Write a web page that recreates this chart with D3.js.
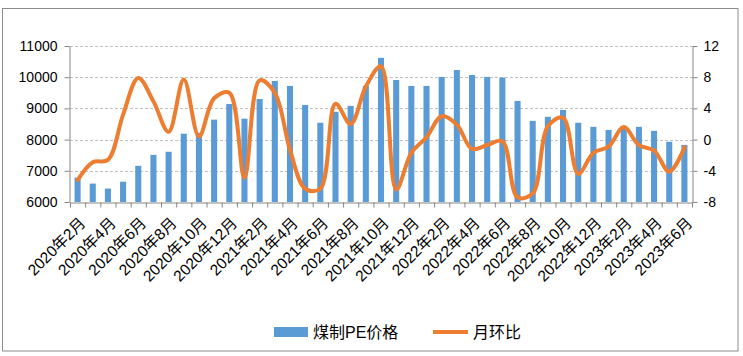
<!DOCTYPE html>
<html><head><meta charset="utf-8">
<script src="https://cdn.jsdelivr.net/npm/d3@7"></script>
<style>
body{margin:0;background:#fff;}
svg{display:block;}
text{font-family:"Liberation Sans","Noto Sans CJK SC",sans-serif;fill:#000;}
</style></head>
<body>
<svg id="c" width="743" height="356"></svg>
<script>
const categories = ["2020年2月","2020年3月","2020年4月","2020年5月","2020年6月","2020年7月","2020年8月","2020年9月","2020年10月","2020年11月","2020年12月",
"2021年1月","2021年2月","2021年3月","2021年4月","2021年5月","2021年6月","2021年7月","2021年8月","2021年9月","2021年10月","2021年11月","2021年12月",
"2022年1月","2022年2月","2022年3月","2022年4月","2022年5月","2022年6月","2022年7月","2022年8月","2022年9月","2022年10月","2022年11月","2022年12月",
"2023年1月","2023年2月","2023年3月","2023年4月","2023年5月","2023年6月"];
const price = [6780,6590,6430,6650,7160,7510,7610,8190,8220,8640,9140,8670,9300,9880,9720,9110,8540,8890,9080,9720,10620,9910,9720,9720,10010,10230,10070,10010,9990,9240,8600,8730,8950,8540,8410,8310,8440,8410,8280,7930,7830];
const mom = [-5.2,-2.9,-2.6,3.2,7.9,4.9,1.0,7.7,0.4,5.3,6.0,-4.9,7.6,6.0,-1.3,-6.3,-6.3,4.6,2.0,6.8,9.4,-6.4,-1.7,0.3,3.0,1.9,-1.2,-0.7,-0.2,-7.4,-6.9,1.7,2.8,-4.4,-1.7,-0.9,1.6,-0.7,-1.4,-4.1,-1.0];
const leftTicks = [6000,7000,8000,9000,10000,11000];
const rightTicks = [-8,-4,0,4,8,12];
const seriesNames = ["煤制PE价格","月环比"];

const svg = d3.select("#c");
const L = 70, R = 692, T = 46, B = 202;
const barColor = "#5B9BD5", lineColor = "#ED7D31", axisColor = "#868686";

svg.append("rect").attr("x",2.5).attr("y",8.5).attr("width",735.5).attr("height",342.5)
  .attr("fill","#fff").attr("stroke","#8c8c8c").attr("stroke-width",1);

const x = d3.scaleBand().domain(categories).range([L,R]).paddingInner(0.6).paddingOuter(0.3);
const xi = d3.scaleLinear().domain([0,categories.length]).range([L,R]);
const yL = d3.scaleLinear().domain([6000,11000]).range([B,T]);
const yR = d3.scaleLinear().domain([-8,12]).range([B,T]);

// grid
svg.append("g").selectAll("line").data(leftTicks.slice(1)).join("line")
  .attr("x1",L).attr("x2",R).attr("y1",d=>Math.round(yL(d))+0.5).attr("y2",d=>Math.round(yL(d))+0.5)
  .attr("stroke","#c0c0c0").attr("stroke-dasharray","3,2").attr("stroke-width",1);

// bars
svg.append("g").selectAll("rect").data(price).join("rect")
  .attr("x",(d,i)=>x(categories[i])).attr("width",x.bandwidth())
  .attr("y",d=>yL(d)).attr("height",d=>B-yL(d)).attr("fill",barColor);

// line
const line = d3.line().x((d,i)=>x(categories[i])+x.bandwidth()/2).y(d=>yR(d)).curve(d3.curveCatmullRom.alpha(0.5));
svg.append("path").datum(mom).attr("d",line).attr("fill","none").attr("stroke",lineColor)
  .attr("stroke-width",4).attr("stroke-linejoin","round").attr("stroke-linecap","round");

// axes
function styleAxis(g){ g.selectAll("path,line").attr("stroke",axisColor); g.selectAll("text").attr("font-size",14).attr("fill","#000"); }
svg.append("g").attr("transform",`translate(${L-0.5},0)`)
  .call(d3.axisLeft(yL).tickValues(leftTicks).tickSize(5).tickSizeOuter(0).tickPadding(7).tickFormat(d3.format("d")))
  .call(styleAxis);
svg.append("g").attr("transform",`translate(${R+0.5},0)`)
  .call(d3.axisRight(yR).tickValues(rightTicks).tickSize(5).tickSizeOuter(0).tickPadding(6).tickFormat(d=>d))
  .call(styleAxis);
svg.append("g").attr("transform",`translate(0,${B+0.5})`)
  .call(d3.axisBottom(xi).tickValues(d3.range(categories.length+1)).tickSize(5).tickSizeOuter(0).tickFormat(""))
  .call(styleAxis);
const xLab = svg.append("g").attr("transform",`translate(0,${B})`)
  .call(d3.axisBottom(x).tickValues(categories.filter((d,i)=>i%2===0)).tickSize(0).tickPadding(0));
xLab.select(".domain").remove();
xLab.selectAll("text").attr("font-size",15.5).attr("fill","#000")
  .attr("text-anchor","end").attr("dy",0).attr("y",0)
  .attr("transform","translate(9,22) rotate(-45)");

// legend
const lg = svg.append("g");
lg.append("rect").attr("x",274).attr("y",327).attr("width",34).attr("height",10).attr("fill",barColor);
lg.append("text").attr("x",313).attr("y",338).attr("font-size",16).text(seriesNames[0]);
lg.append("line").attr("x1",433).attr("x2",468).attr("y1",332).attr("y2",332).attr("stroke",lineColor).attr("stroke-width",4);
lg.append("text").attr("x",473).attr("y",338).attr("font-size",16).text(seriesNames[1]);
</script>
</body></html>
